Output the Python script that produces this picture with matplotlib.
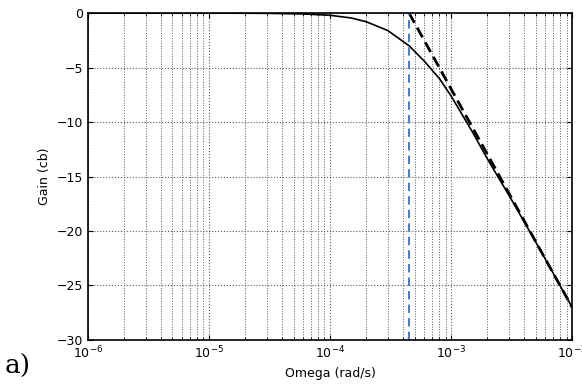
import numpy as np
import matplotlib.pyplot as plt

# values
omega = [1e-6, 1e-5, 3e-5, 6e-5, 1e-4, 1.5e-4, 2e-4, 3e-4, 4.5e-4, 6e-4,
         8e-4, 1e-3, 1.5e-3, 2e-3, 3e-3, 5e-3, 7e-3, 1e-2]
gain = [0, 0, -0.02, -0.08, -0.2, -0.45, -0.8, -1.6, -3.0, -4.4,
        -6.0, -7.6, -10.9, -13.4, -16.7, -21.0, -23.9, -27.0]
asym_omega = [4.5e-4, 1e-2]
asym_gain = [0, -27.0]
omega_c = 4.5e-4
yticks = [0, -5, -10, -15, -20, -25, -30]

fig = plt.figure(figsize=(5.82, 3.85), dpi=100)
ax = fig.add_axes([0.151, 0.117, 0.832, 0.849])

ax.semilogx(omega, gain, color='black', lw=1.2)
ax.semilogx(asym_omega, asym_gain, color='black', lw=2, ls=(0, (4, 2)))
ax.axvline(omega_c, color='#4a7fc1', lw=1.5, ls=(0, (4, 2.5)))

ax.set_xlim(1e-6, 1e-2)
ax.set_ylim(-30, 0)
ax.set_yticks(yticks)
ax.grid(True, which='major', color='0.35', ls=':', lw=0.8)
ax.grid(True, which='minor', axis='x', color='0.35', ls=':', lw=0.7)
ax.tick_params(which='both', direction='in', top=True, right=True, labelsize=9)
for s in ax.spines.values():
    s.set_linewidth(1.2)

ax.set_xlabel('Omega (rad/s)', fontsize=9)
ax.set_ylabel('Gain (cb)', fontsize=9)
fig.text(0.008, 0.03, 'a)', fontsize=19, family='DejaVu Serif')

fig.savefig('out.png', dpi=100)
